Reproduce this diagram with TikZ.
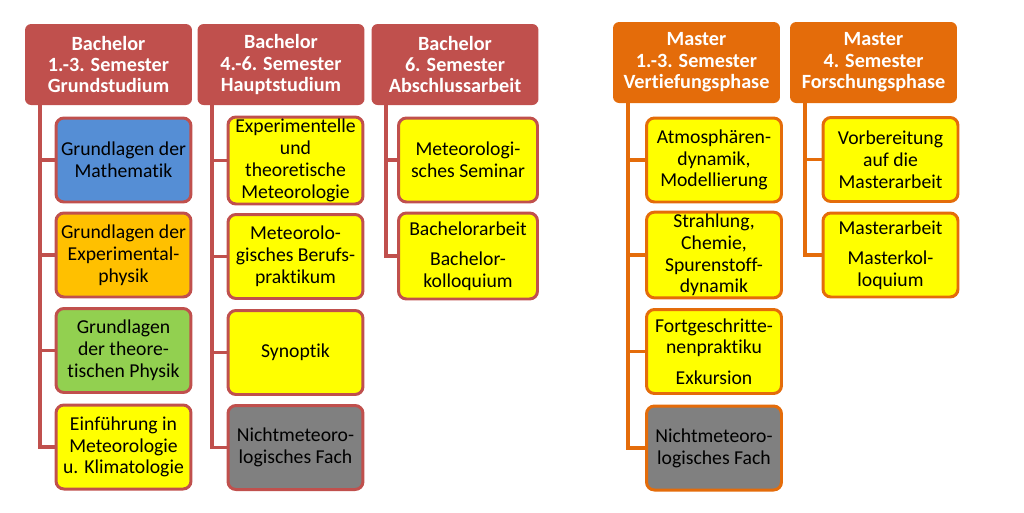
\documentclass[tikz,border=0pt]{standalone}
\usepackage{fontspec}
\setmainfont{Carlito}[Ligatures=NoCommon]
\usepackage{tikz}
\usetikzlibrary{positioning}

\definecolor{bred}{RGB}{192,80,77}
\definecolor{morange}{RGB}{228,108,10}
\definecolor{iblue}{RGB}{85,142,213}
\definecolor{iorange}{RGB}{255,192,0}
\definecolor{igreen}{RGB}{146,208,80}
\definecolor{iyellow}{RGB}{255,255,0}
\definecolor{igray}{RGB}{128,128,128}

\begin{document}
\begin{tikzpicture}[x=0.02cm, y=-0.02cm,
  head/.style={rounded corners=3.5pt, minimum width=3.34cm, minimum height=1.62cm,
    text=white, font=\fontsize{11.5}{12.2}\selectfont\bfseries, align=center, inner sep=1pt},
  bhead/.style={head, fill=bred},
  mhead/.style={head, fill=morange},
  item/.style={rounded corners=4.5pt, line width=1.7pt, minimum width=2.7cm, minimum height=1.68cm,
    font=\fontsize{11.2}{12.4}\selectfont, align=center, inner sep=1pt, fill=iyellow},
  bitem/.style={item, draw=bred},
  mitem/.style={item, draw=morange},
  blink/.style={bred, line width=2.2pt},
  mlink/.style={morange, line width=2.2pt}]
  \useasboundingbox (0,0) rectangle (1024,512);
  % Bachelor headers
  \node[bhead] (h1) at (108.5,64.5) {Bachelor\\1.-3. Semester\\Grundstudium};
  \node[bhead] (h2) at (281,64.5) {Bachelor\\4.-6. Semester\\Hauptstudium};
  \node[bhead] (h3) at (455,64.5) {Bachelor\\6. Semester\\Abschlussarbeit};
  % Master headers
  \node[mhead] (h4) at (696.5,62.5) {Master\\1.-3. Semester\\Vertiefungsphase};
  \node[mhead] (h5) at (873.5,62.5) {Master\\4. Semester\\Forschungsphase};
  % Grundstudium
  \node[bitem, fill=iblue] (a1) at (123.5,160) {Grundlagen der\\Mathematik};
  \node[bitem, fill=iorange] (a2) at (123.5,255) {Grundlagen der\\Experimental-\\physik};
  \node[bitem, fill=igreen] (a3) at (123.5,350.5) {Grundlagen\\der theore-\\tischen Physik};
  \node[bitem] (a4) at (123.5,447) {Einführung in\\Meteorologie\\u. Klimatologie};
  % Hauptstudium
  \node[bitem, minimum height=1.74cm] (b1) at (295.5,160.5) {Experimentelle\\und\\theoretische\\Meteorologie};
  \node[bitem] (b2) at (295.5,256.5) {Meteorolo-\\gisches Berufs-\\praktikum};
  \node[bitem] (b3) at (295.5,352.5) {Synoptik};
  \node[bitem, fill=igray] (b4) at (295.5,447.5) {Nichtmeteoro-\\logisches Fach};
  % Abschlussarbeit
  \node[bitem, minimum width=2.78cm] (c1) at (468,160) {Meteorologi-\\sches Seminar};
  \node[bitem, minimum width=2.78cm, minimum height=1.72cm] (c2) at (468,256) {Bachelorarbeit\\[5pt]Bachelor-\\kolloquium};
  % Vertiefungsphase
  \node[mitem] (d1) at (714,160) {Atmosphären-\\dynamik,\\Modellierung};
  \node[mitem] (d2) at (714,255) {Strahlung,\\Chemie,\\Spurenstoff-\\dynamik};
  \node[mitem] (d3) at (714,351.5) {Fortgeschritte-\\nenpraktiku\\[5pt]Exkursion};
  \node[mitem, fill=igray] (d4) at (714,448) {Nichtmeteoro-\\logisches Fach};
  % Forschungsphase
  \node[mitem] (e1) at (890.5,159.5) {Vorbereitung\\auf die\\Masterarbeit};
  \node[mitem] (e2) at (890.5,255) {Masterarbeit\\[5pt]Masterkol-\\loquium};
  % connectors
  \foreach \c in {a1,a2,a3,a4}
    \draw[blink] ([xshift=0.3cm]h1.south west) |- (\c.west);
  \foreach \c in {b1,b2,b3,b4}
    \draw[blink] ([xshift=0.3cm]h2.south west) |- (\c.west);
  \foreach \c in {c1,c2}
    \draw[blink] ([xshift=0.3cm]h3.south west) |- (\c.west);
  \foreach \c in {d1,d2,d3,d4}
    \draw[mlink] ([xshift=0.3cm]h4.south west) |- (\c.west);
  \foreach \c in {e1,e2}
    \draw[mlink] ([xshift=0.3cm]h5.south west) |- (\c.west);
\end{tikzpicture}
\end{document}
